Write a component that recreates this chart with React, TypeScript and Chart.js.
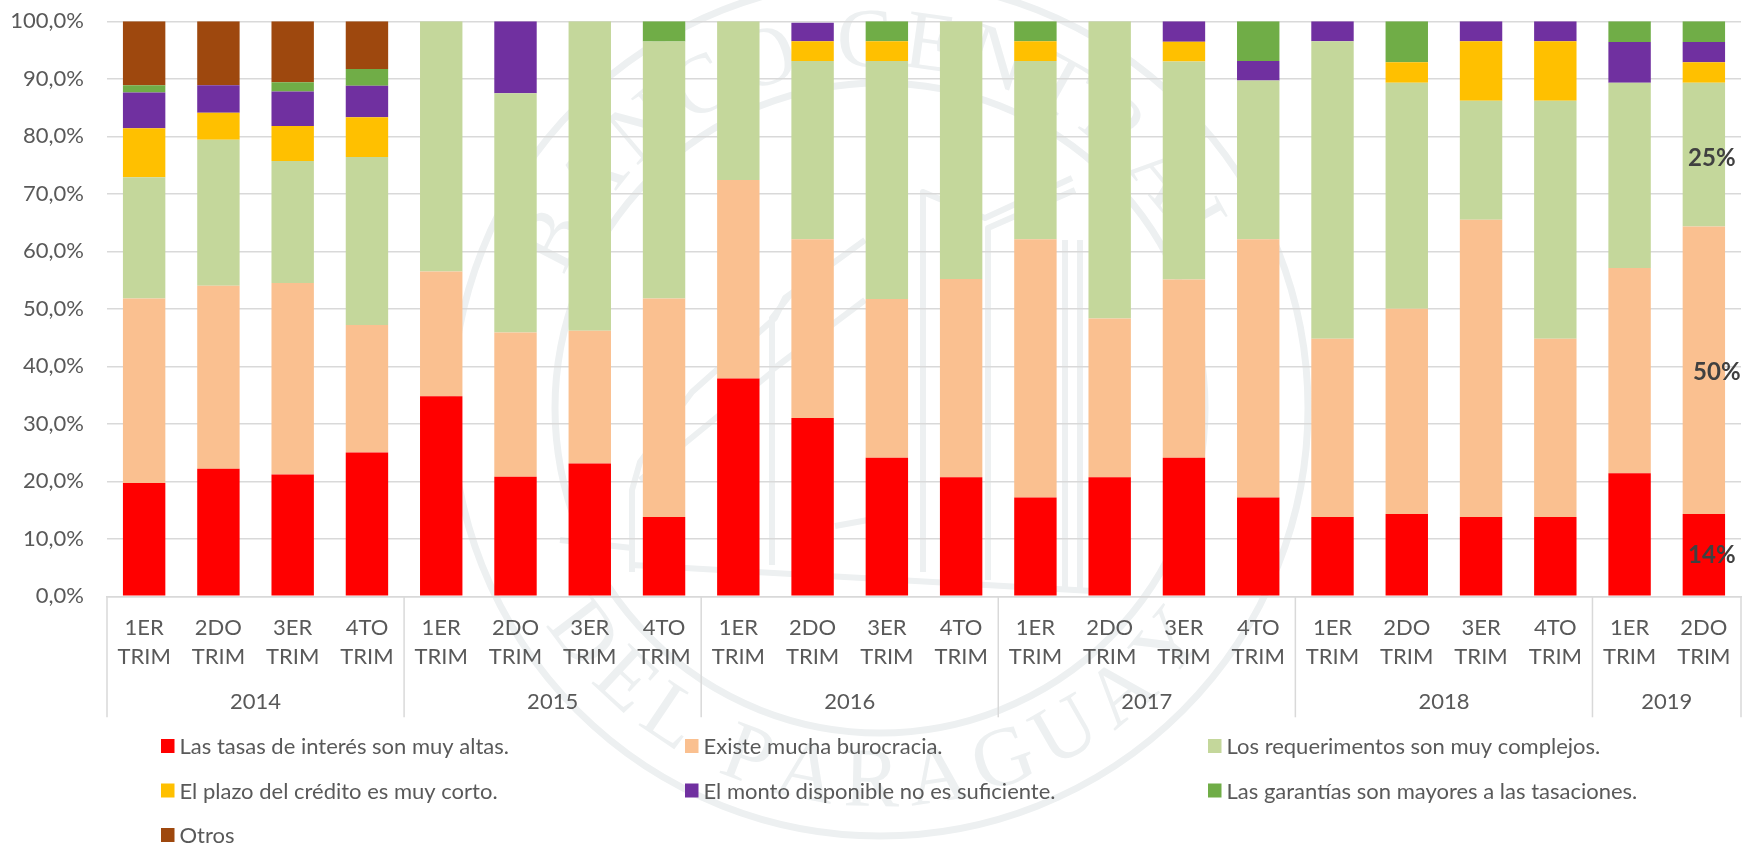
import React, { useEffect, useRef } from "react";
import { Chart, registerables } from "chart.js";

Chart.register(...registerables);

const quarters = [
  ["1ER", "TRIM"], ["2DO", "TRIM"], ["3ER", "TRIM"], ["4TO", "TRIM"],
  ["1ER", "TRIM"], ["2DO", "TRIM"], ["3ER", "TRIM"], ["4TO", "TRIM"],
  ["1ER", "TRIM"], ["2DO", "TRIM"], ["3ER", "TRIM"], ["4TO", "TRIM"],
  ["1ER", "TRIM"], ["2DO", "TRIM"], ["3ER", "TRIM"], ["4TO", "TRIM"],
  ["1ER", "TRIM"], ["2DO", "TRIM"], ["3ER", "TRIM"], ["4TO", "TRIM"],
  ["1ER", "TRIM"], ["2DO", "TRIM"],
];
const years = ["2014", "2015", "2016", "2017", "2018", "2019"];
const quartersPerYear = [4, 4, 4, 4, 4, 2];

const tasas = [19.7, 22.2, 21.2, 25.0, 34.8, 20.8, 23.1, 13.8, 37.9, 31.0, 24.1, 20.7, 17.2, 20.7, 24.1, 17.2, 13.8, 14.3, 13.8, 13.8, 21.4, 14.3];
const burocracia = [32.1, 31.8, 33.3, 22.2, 21.7, 25.1, 23.1, 38.0, 34.5, 31.1, 27.6, 34.5, 44.9, 27.6, 31.0, 44.9, 31.0, 35.7, 51.7, 31.0, 35.7, 50.0];
const requerimientos = [21.1, 25.4, 21.2, 29.2, 43.5, 41.6, 53.8, 44.7, 27.6, 31.0, 41.4, 44.8, 31.0, 51.7, 37.9, 27.6, 51.75, 39.3, 20.7, 41.4, 32.2, 25.0];
const plazo = [8.5, 4.7, 6.1, 6.9, 0, 0, 0, 0, 0, 3.45, 3.45, 0, 3.45, 0, 3.45, 0, 0, 3.6, 10.35, 10.35, 0, 3.6];
const monto = [6.2, 4.8, 6.0, 5.5, 0, 12.5, 0, 0, 0, 3.2, 0, 0, 0, 0, 3.55, 3.4, 3.45, 0, 3.45, 3.45, 7.1, 3.5];
const garantias = [1.3, 0, 1.6, 2.9, 0, 0, 0, 3.5, 0, 0, 3.45, 0, 3.45, 0, 0, 6.9, 0, 7.1, 0, 0, 3.6, 3.6];
const otros = [11.1, 11.1, 10.6, 8.3, 0, 0, 0, 0, 0, 0, 0, 0, 0, 0, 0, 0, 0, 0, 0, 0, 0, 0];

const seriesNames = [
  "Las tasas de interés son muy altas.",
  "Existe mucha burocracia.",
  "Los requerimentos son muy complejos.",
  "El plazo del crédito es muy corto.",
  "El monto disponible no es suficiente.",
  "Las garantías son mayores a las tasaciones.",
  "Otros",
];
const seriesColors = ["#FF0000", "#FAC090", "#C4D79B", "#FFC000", "#7030A0", "#70AD47", "#9E480E"];
const seriesValues = [tasas, burocracia, requerimientos, plazo, monto, garantias, otros];

const FONT = "Lato, 'Open Sans', sans-serif";
const TEXT = "#595959";
const LINE = "#D9D9D9";
const WM = "#EDF0F1";

function arcText(ctx: CanvasRenderingContext2D, text: string, from: number, to: number, r: number, cx: number, cy: number, bottom: boolean) {
  const widths = [...text].map((c) => ctx.measureText(c).width + 8);
  const total = widths.reduce((a, b) => a + b, 0);
  let run = 0;
  [...text].forEach((c, i) => {
    const t = from + ((run + widths[i] / 2) / total) * (to - from);
    run += widths[i];
    const th = (t * Math.PI) / 180;
    ctx.save();
    if (bottom) {
      ctx.translate(cx + r * Math.sin(th), cy + r * Math.cos(th));
      ctx.rotate(-th);
    } else {
      ctx.translate(cx + r * Math.sin(th), cy - r * Math.cos(th));
      ctx.rotate(th);
    }
    ctx.fillText(c, 0, 0);
    ctx.restore();
  });
}

const watermark = {
  id: "watermark",
  beforeDraw(chart: any) {
    const ctx: CanvasRenderingContext2D = chart.ctx;
    const cx = 880, cy = 408;
    ctx.save();
    ctx.strokeStyle = WM;
    ctx.fillStyle = WM;
    ctx.lineWidth = 7;
    ctx.lineJoin = "round";
    for (const r of [428, 325]) {
      ctx.beginPath();
      ctx.arc(cx, cy, r, 0, Math.PI * 2);
      ctx.stroke();
    }
    ctx.font = "84px 'Liberation Serif', serif";
    ctx.textAlign = "center";
    ctx.textBaseline = "alphabetic";
    arcText(ctx, "BANCO CENTRAL", -68, 66, 342, cx, cy, false);
    arcText(ctx, "DEL PARAGUAY", -58, 56, 398, cx, cy, true);
    const paths: number[][][] = [
      [[632, 572], [632, 490], [640, 462], [692, 392], [775, 318], [785, 298], [865, 240]],
      [[772, 565], [772, 318], [790, 295]],
      [[772, 370], [865, 300]],
      [[640, 480], [772, 372]],
      [[560, 540], [632, 548]],
      [[632, 565], [1110, 592]],
      [[835, 526], [868, 520]],
      [[923, 572], [923, 192], [985, 218], [1072, 178]],
      [[988, 580], [988, 228], [1075, 190]],
      [[1065, 590], [1065, 240]],
      [[1080, 590], [1080, 240]],
    ];
    ctx.lineWidth = 6;
    for (const p of paths) {
      ctx.beginPath();
      p.forEach(([x, y], i) => (i ? ctx.lineTo(x, y) : ctx.moveTo(x, y)));
      ctx.stroke();
    }
    ctx.restore();
  },
};

const yearAxis = {
  id: "yearAxis",
  afterDraw(chart: any) {
    const ctx: CanvasRenderingContext2D = chart.ctx;
    const x = chart.scales.x;
    const step = x.getPixelForValue(1) - x.getPixelForValue(0);
    const axisY = chart.chartArea.bottom;
    ctx.save();
    ctx.strokeStyle = LINE;
    ctx.lineWidth = 1.5;
    ctx.fillStyle = TEXT;
    ctx.font = `22px ${FONT}`;
    ctx.textAlign = "center";
    ctx.textBaseline = "middle";
    let start = 0;
    const sep = (px: number) => {
      ctx.beginPath();
      ctx.moveTo(px, axisY);
      ctx.lineTo(px, axisY + 121);
      ctx.stroke();
    };
    sep(x.getPixelForValue(0) - step / 2);
    years.forEach((y, i) => {
      const n = quartersPerYear[i];
      const l = x.getPixelForValue(start) - step / 2;
      const r = x.getPixelForValue(start + n - 1) + step / 2;
      sep(r);
      ctx.fillText(y, (l + r) / 2, axisY + 106);
      start += n;
    });
    ctx.restore();
  },
};

const valueLabels = {
  id: "valueLabels",
  afterDraw(chart: any) {
    const ctx: CanvasRenderingContext2D = chart.ctx;
    const x = chart.scales.x;
    const y = chart.scales.y;
    const last = quarters.length - 1;
    const shifts = [8, 13, 8];
    const lifts = [0, 2, 4];
    ctx.save();
    ctx.fillStyle = "#404040";
    ctx.font = `bold 24px ${FONT}`;
    ctx.textAlign = "center";
    ctx.textBaseline = "middle";
    let base = 0;
    shifts.forEach((s, i) => {
      const v = seriesValues[i][last];
      ctx.fillText(`${Math.round(v)}%`, x.getPixelForValue(last) + s, y.getPixelForValue(base + v / 2) + lifts[i]);
      base += v;
    });
    ctx.restore();
  },
};

const gridLegend = {
  id: "gridLegend",
  afterDraw(chart: any) {
    const ctx: CanvasRenderingContext2D = chart.ctx;
    const cols = [161, 685, 1208];
    const rows = [746, 790.5, 835];
    ctx.save();
    ctx.font = `22px ${FONT}`;
    ctx.textBaseline = "middle";
    ctx.textAlign = "left";
    chart.data.datasets.forEach((d: any, i: number) => {
      const lx = cols[i % 3];
      const ly = rows[Math.floor(i / 3)];
      ctx.fillStyle = d.backgroundColor;
      ctx.fillRect(lx, ly - 7, 13.5, 14);
      ctx.fillStyle = TEXT;
      ctx.fillText(d.label, lx + 18.5, ly + 1);
    });
    ctx.restore();
  },
};

export default function App() {
  const ref = useRef<HTMLCanvasElement>(null);
  useEffect(() => {
    document.body.style.margin = "0";
    document.body.style.background = "#fff";
    const chart = new Chart(ref.current!, {
      type: "bar",
      data: {
        labels: quarters,
        datasets: seriesNames.map((label, i) => ({
          label,
          data: seriesValues[i],
          backgroundColor: seriesColors[i],
          barPercentage: 0.571,
          categoryPercentage: 1,
          borderWidth: 0,
        })),
      } as any,
      options: {
        responsive: false,
        animation: false,
        layout: { padding: { top: 21.3, right: 1, left: 0, bottom: 0 } },
        plugins: { legend: { display: false }, tooltip: { enabled: false }, title: { display: false } },
        scales: {
          x: {
            stacked: true,
            grid: { display: false, drawTicks: false },
            border: { display: true, color: LINE, width: 1.5 },
            ticks: {
              autoSkip: false,
              maxRotation: 0,
              minRotation: 0,
              padding: 17,
              color: TEXT,
              font: { family: FONT, size: 22, lineHeight: 1.32 },
            },
            afterFit(s: any) { s.height = 250.7; s.paddingLeft = 0; s.paddingRight = 0; },
          },
          y: {
            stacked: true,
            min: 0,
            max: 100,
            grid: { color: LINE, lineWidth: 1.5, drawTicks: false },
            border: { display: false },
            ticks: {
              stepSize: 10,
              padding: 23,
              color: TEXT,
              font: { family: FONT, size: 22 },
              callback: (v: any) => Number(v).toFixed(1).replace(".", ",") + "%",
            },
            afterFit(s: any) { s.width = 107; s.paddingTop = 0; s.paddingBottom = 0; },
          },
        },
      } as any,
      plugins: [watermark, yearAxis, valueLabels, gridLegend],
    });
    return () => chart.destroy();
  }, []);
  return (
    <div style={{ width: 1742, height: 847 }}>
      <canvas ref={ref} width={1742} height={847} style={{ display: "block" }} />
    </div>
  );
}
